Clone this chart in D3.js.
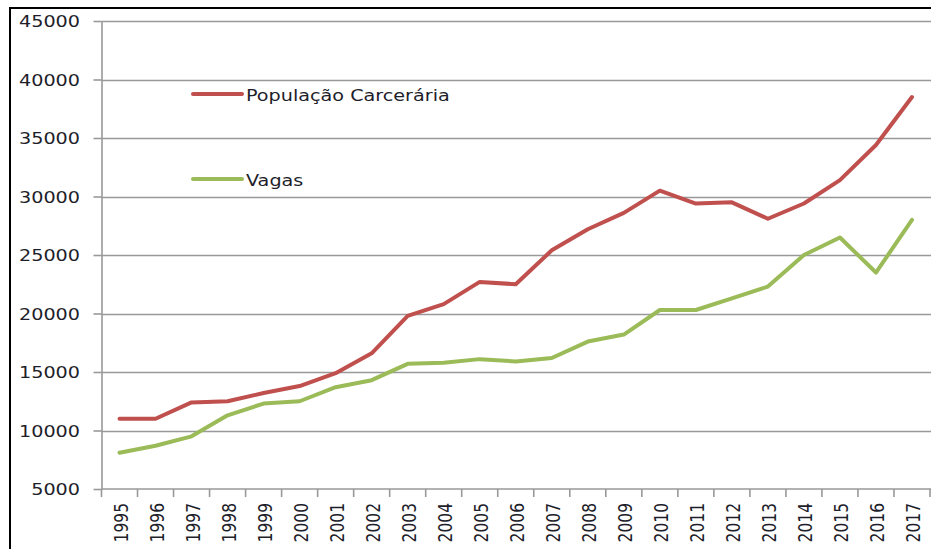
<!DOCTYPE html>
<html>
<head>
<meta charset="utf-8">
<script src="https://cdn.jsdelivr.net/npm/d3@7/dist/d3.min.js"></script>
<style>
  html, body { margin: 0; padding: 0; background: #fff; }
  svg { display: block; }
  text { font-family: "DejaVu Sans", Verdana, sans-serif; fill: #1e1e2a; }
</style>
</head>
<body>
<svg id="chart" width="931" height="549"></svg>
<script>
const years = ["1995","1996","1997","1998","1999","2000","2001","2002","2003","2004","2005","2006","2007","2008","2009","2010","2011","2012","2013","2014","2015","2016","2017"];
const populacao = [11000,11000,12400,12500,13200,13800,14900,16600,19800,20800,22700,22500,25400,27200,28600,30500,29400,29500,28100,29400,31400,34400,38500];
const vagas = [8100,8700,9500,11300,12300,12500,13700,14300,15700,15800,16100,15900,16200,17600,18200,20300,20300,21300,22300,25000,26500,23500,28000];
const yTicks = [5000,10000,15000,20000,25000,30000,35000,40000,45000];
const seriesNames = ["População Carcerária", "Vagas"];
const seriesColors = ["#C0504D", "#9BBB59"];

const svg = d3.select("#chart");
const plotLeft = 101.5, plotRight = 930, plotTop = 21, plotBottom = 489;
const sx = 1.2; // horizontal stretch of the original rendering

// outer frame
svg.append("rect").attr("x", 10).attr("y", 8).attr("width", 940).attr("height", 560)
  .attr("fill", "none").attr("stroke", "#000").attr("stroke-width", 2);

const x = d3.scaleBand().domain(years).range([plotLeft, plotRight]).paddingInner(0).paddingOuter(0);
const y = d3.scaleLinear().domain([5000, 45000]).range([plotBottom, plotTop]);

// gridlines
svg.append("g").selectAll("line").data(yTicks.slice(1)).join("line")
  .attr("x1", plotLeft).attr("x2", 931)
  .attr("y1", d => Math.round(y(d)) + 0.5).attr("y2", d => Math.round(y(d)) + 0.5)
  .attr("stroke", "#999").attr("stroke-width", 1.6);

// y axis
const yAxis = svg.append("g").attr("transform", `translate(${plotLeft},0)`)
  .call(d3.axisLeft(y).tickValues(yTicks).tickSize(8).tickSizeOuter(0).tickFormat(d3.format("d")));
yAxis.select(".domain").attr("stroke", "#999").attr("stroke-width", 1.6);
yAxis.selectAll(".tick line").attr("stroke", "#999").attr("stroke-width", 1.6);
yAxis.selectAll(".tick text")
  .attr("x", -21.5 / sx).attr("dy", "0.36em")
  .attr("transform", `scale(${sx},1)`)
  .style("font-size", "16px").attr("fill", "#1e1e2a");

// x axis line
svg.append("line").attr("x1", plotLeft).attr("x2", 931).attr("y1", plotBottom).attr("y2", plotBottom)
  .attr("stroke", "#999").attr("stroke-width", 1.6);

// x boundary ticks
const bounds = years.map(d => x(d)).concat([x(years[years.length - 1]) + x.bandwidth()]);
svg.append("g").selectAll("line").data(bounds).join("line")
  .attr("x1", d => d).attr("x2", d => d).attr("y1", plotBottom).attr("y2", plotBottom + 8)
  .attr("stroke", "#999").attr("stroke-width", 1.6);

// x labels via axis
const xAxis = svg.append("g").attr("transform", `translate(0,${plotBottom})`)
  .call(d3.axisBottom(x).tickSize(0).tickSizeOuter(0));
xAxis.select(".domain").remove();
xAxis.selectAll(".tick text")
  .attr("y", 0).attr("x", 0).attr("dy", "0.36em")
  .attr("text-anchor", "end")
  .attr("transform", `translate(1.5,14) rotate(-90) scale(1,${sx})`)
  .style("font-size", "15.5px").attr("fill", "#1e1e2a");

// lines
const line = d3.line().x((d, i) => x(years[i]) + x.bandwidth() / 2).y(d => y(d));
[populacao, vagas].forEach((s, i) => {
  svg.append("path").datum(s).attr("d", line)
    .attr("fill", "none").attr("stroke", seriesColors[i]).attr("stroke-width", 4)
    .attr("stroke-linejoin", "round").attr("stroke-linecap", "round");
});

// legend
const legendY = [94, 179];
seriesNames.forEach((n, i) => {
  svg.append("line").attr("x1", 193).attr("x2", 242).attr("y1", legendY[i]).attr("y2", legendY[i])
    .attr("stroke", seriesColors[i]).attr("stroke-width", 4).attr("stroke-linecap", "round");
  svg.append("text").attr("x", 246 / sx).attr("y", legendY[i] + 7.5)
    .attr("transform", `scale(${sx},1)`)
    .style("font-size", "16px").text(n);
});
</script>
</body>
</html>
